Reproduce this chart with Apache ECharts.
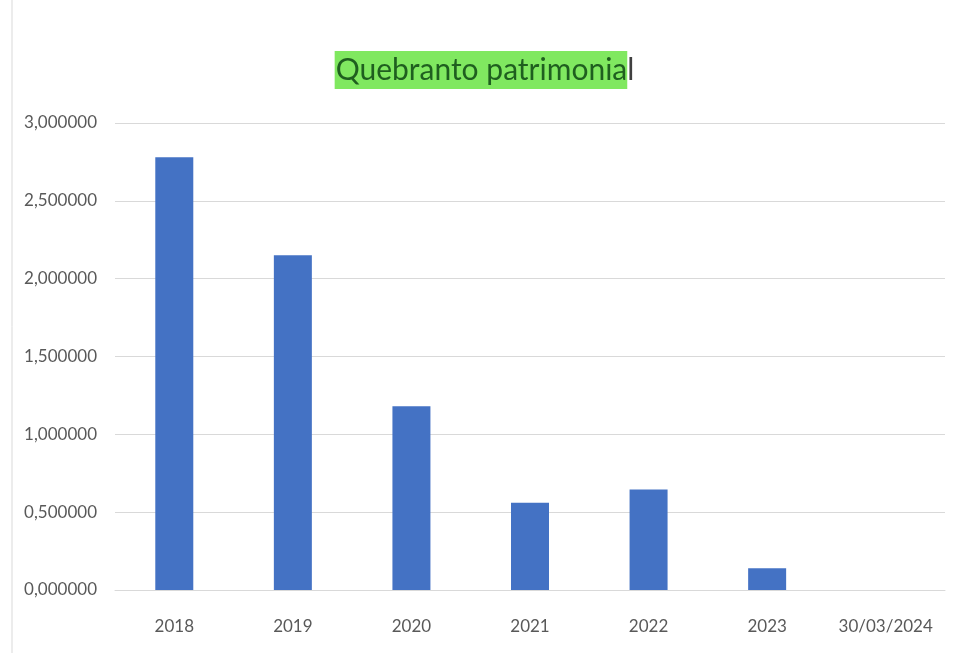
<!DOCTYPE html>
<html>
<head>
<meta charset="utf-8">
<script src="https://cdn.jsdelivr.net/npm/echarts@6/dist/echarts.min.js"></script>
<style>
  html, body { margin: 0; padding: 0; background: #fff; }
  #chart { width: 969px; height: 653px; }
</style>
</head>
<body>
<div id="chart"></div>
<script>
// categories and values (millions)
const categories = ['2018', '2019', '2020', '2021', '2022', '2023', '30/03/2024'];
const values = [2.78, 2.15, 1.18, 0.56, 0.645, 0.14, 0.0];

const mychart = echarts.init(document.getElementById('chart'));

const fmt = v => v.toFixed(6).replace('.', ',');

const option = {
    animation: false,
    textStyle: { fontFamily: 'Lato' },
    title: {
        left: 'center',
        top: 44,
        text: '{a|Quebranto patrimonia}{b|l}',
        textStyle: {
            rich: {
                a: {
                    fontFamily: 'Lato',
                    fontSize: 30,
                    fontWeight: 'normal',
                    color: '#1f5f1f',
                    backgroundColor: '#80e860',
                    padding: [4, 0, 4, 1],
                    lineHeight: 42
                },
                b: {
                    fontFamily: 'Lato',
                    fontSize: 30,
                    fontWeight: 'normal',
                    color: '#404040',
                    lineHeight: 42
                }
            }
        }
    },
    graphic: [{
        type: 'line',
        shape: { x1: 12, y1: 0, x2: 12, y2: 653 },
        style: { stroke: '#d9d9d9', lineWidth: 1 }
    }],
    grid: { left: 115, right: 24, top: 123, bottom: 63 },
    xAxis: {
        type: 'category',
        data: categories,
        axisLine: { lineStyle: { color: '#d9d9d9', width: 1 } },
        axisTick: { show: false },
        axisLabel: { color: '#595959', fontSize: 17, margin: 28, interval: 0 }
    },
    yAxis: {
        type: 'value',
        min: 0,
        max: 3,
        interval: 0.5,
        axisLine: { show: false },
        axisTick: { show: false },
        splitLine: { lineStyle: { color: '#d9d9d9', width: 1 } },
        axisLabel: { color: '#595959', fontSize: 17, margin: 18, formatter: fmt }
    },
    series: [{
        type: 'bar',
        data: values,
        barWidth: 38,
        itemStyle: { color: '#4472c4' }
    }]
};

mychart.setOption(option);
</script>
</body>
</html>
